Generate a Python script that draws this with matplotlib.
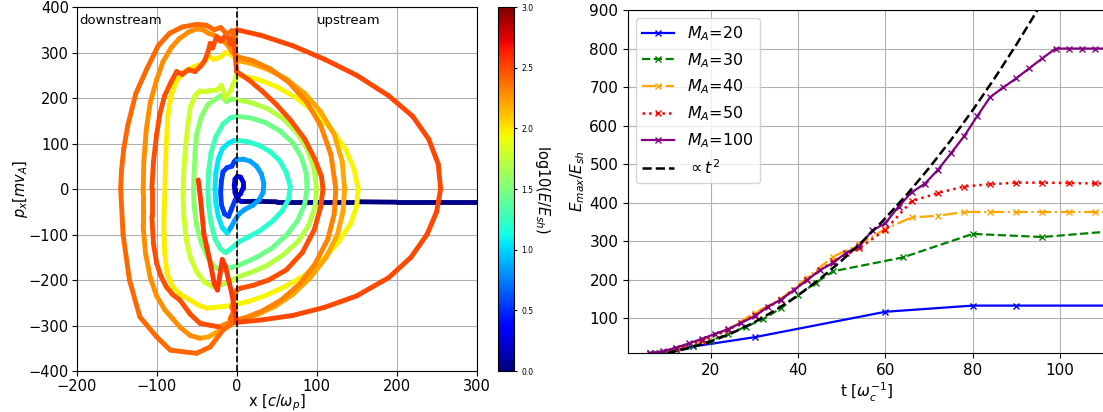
import numpy as np
import matplotlib
matplotlib.use("Agg")
import matplotlib.pyplot as plt
from matplotlib.collections import LineCollection
from matplotlib.colors import Normalize

# ---- left panel: particle track in (x, p_x), one colour value per piece ----
inj_x = [300, 250, 200, 150, 100, 50, 20, 5]
inj_p = [-29, -29, -29, -28, -28, -28, -27, -27]
l1_x = [5, 1, -2, -3, -2, 1, 5, 8, 8, 5, 1, -2]
l1_p = [-27, -22, -8, 8, 22, 28, 26, 16, 2, -10, -18, -25]
l2a_x = [-2, -6, -10, -15, -19, -20, -19, -17, -12, -6, -3, 0]
l2a_p = [-25, -42, -60, -55, -35, -8, 18, 38, 47, 50, 60, 66]
l2b_x = [0, 8, 17, 25, 31, 34, 33, 28, 20, 10, 3, -2, -7, -12]
l2b_p = [66, 66, 61, 50, 33, 12, -8, -24, -36, -45, -55, -68, -84, -97]
l3a_x = [-12, -18, -23, -26, -27, -26, -23, -18, -10, -3, 0]
l3a_p = [-97, -85, -60, -30, 0, 35, 65, 88, 101, 107, 107]
l3b_x = [0, 14, 28, 42, 54, 62, 67, 65, 57, 44, 29, 14, 4, -3, -9, -14]
l3b_p = [107, 104, 96, 82, 62, 36, 5, -22, -48, -72, -92, -106, -115, -125, -134, -140]
l4a_x = [-14, -20, -27, -32, -35, -36, -35, -32, -26, -17, -8, 0]
l4a_p = [-140, -132, -110, -75, -38, 0, 40, 80, 115, 143, 156, 160]
l4b_x = [0, 18, 36, 54, 70, 81, 87, 88, 85, 76, 62, 44, 25, 10, 2, -6, -14, -20]
l4b_p = [160, 156, 146, 128, 102, 70, 35, 0, -35, -70, -102, -130, -150, -162, -168, -172, -176, -180]
l5a_x = [-20, -28, -36, -44, -50, -53, -54, -53, -52, -50, -44, -36, -26, -19, -13, -6, 0]
l5a_p = [-180, -170, -150, -120, -80, -40, 0, 40, 80, 120, 160, 185, 198, 206, 192, 198, 196]
l5b_x = [0, 18, 38, 58, 76, 89, 97, 100, 98, 90, 77, 58, 38, 20, 7, 0, -8, -18, -29]
l5b_p = [196, 190, 177, 155, 122, 85, 42, 0, -40, -80, -115, -145, -168, -182, -190, -195, -203, -210, -215]
l6a_x = [-29, -40, -50, -58, -63, -66, -67, -66, -64, -61, -58, -52, -46, -36, -25, -19, -14, -8, -3, 0]
l6a_p = [-215, -205, -182, -150, -110, -60, -10, 40, 90, 140, 180, 205, 216, 216, 217, 228, 200, 215, 235, 250]
l6b_x = [0, 25, 50, 75, 100, 120, 137, 147, 152, 150, 143, 128, 108, 85, 60, 35, 15, 3, -5, -15, -27, -37]
l6b_p = [250, 242, 225, 200, 165, 128, 85, 42, 0, -38, -75, -115, -155, -190, -215, -235, -247, -252, -255, -258, -260, -262]
l7a_x = [-37, -48, -58, -70, -80, -87, -90, -91, -90, -89, -88, -86, -82, -75, -64, -52, -42, -35, -28, -20, -14, -8, -3, 0]
l7a_p = [-262, -255, -244, -232, -215, -185, -140, -80, -20, 40, 100, 160, 205, 238, 260, 270, 275, 292, 285, 290, 300, 296, 290, 283]
l7b_x = [0, 20, 40, 62, 85, 105, 122, 132, 135, 133, 126, 112, 92, 70, 48, 27, 10, 0, -10, -22, -35, -46]
l7b_p = [283, 275, 262, 242, 210, 170, 120, 60, 0, -50, -100, -150, -195, -232, -258, -275, -286, -292, -300, -312, -325, -328]
l8a_x = [-46, -58, -70, -80, -90, -100, -108, -114, -117, -117, -116, -113, -108, -100, -92, -82, -72, -60, -50, -42, -35, -28, -20, -12, -5, 0]
l8a_p = [-328, -322, -305, -285, -265, -235, -195, -140, -80, -10, 60, 130, 190, 240, 280, 310, 330, 345, 352, 350, 342, 338, 330, 318, 300, 291]
l8b_x = [0, 20, 42, 65, 88, 105, 118, 124, 122, 114, 98, 78, 55, 32, 12, 0, -8, -15, -22]
l8b_p = [291, 282, 264, 235, 190, 140, 75, 0, -55, -110, -165, -210, -245, -268, -282, -288, -292, -298, -303]
l9a_x = [-22, -32, -46, -58, -71, -80, -88, -95, -100, -104, -106, -106, -104, -100, -96, -90, -82, -75,
         -68, -60, -52, -45, -40, -36, -33, -30, -25, -20, -17, -12, -8, -4, 0]
l9a_p = [-303, -300, -295, -275, -244, -232, -215, -190, -163, -120, -60, 0, 60, 120, 165, 205, 235, 258,
         252, 262, 258, 270, 282, 300, 320, 310, 335, 325, 330, 342, 318, 337, 258]
l9b_x = [0, 15, 32, 50, 68, 85, 98, 106, 108, 105, 97, 82, 62, 40, 20, 5, 0]
l9b_p = [258, 240, 215, 185, 150, 110, 65, 28, 0, -40, -90, -140, -178, -200, -212, -218, -222]
l10a_x = [0, -3, -6, -4, -8, -5, -17, -33, -50, -66, -83, -100, -121, -134, -142, -145, -144, -141,
          -136, -126, -112, -98, -84, -68, -50, -38, -28, -20, -12, -6, -2, 0]
l10a_p = [-222, -240, -260, -270, -285, -295, -310, -347, -361, -358, -354, -325, -281, -200, -100, 0, 40, 90,
          140, 210, 265, 315, 342, 356, 362, 360, 350, 355, 340, 348, 335, 350]
l10b_x = [0, 30, 70, 110, 150, 190, 220, 240, 252, 255, 250, 238, 218, 190, 150, 110, 70, 30, 0]
l10b_p = [350, 338, 315, 285, 250, 205, 160, 110, 55, 0, -50, -100, -150, -195, -235, -260, -278, -288, -293]
end_x = [0, -3, -6, -10, -14, -18, -21, -24, -28, -32, -37, -41, -45, -48]
end_p = [-293, -260, -230, -200, -170, -155, -190, -222, -208, -171, -130, -98, -24, 20]

track = [
    (inj_x, inj_p, 0.02), (l1_x, l1_p, 0.25),
    (l2a_x, l2a_p, 0.55), (l2b_x, l2b_p, 0.85),
    (l3a_x, l3a_p, 1.05), (l3b_x, l3b_p, 1.2),
    (l4a_x, l4a_p, 1.3), (l4b_x, l4b_p, 1.45),
    (l5a_x, l5a_p, 1.55), (l5b_x, l5b_p, 1.7),
    (l6a_x, l6a_p, 1.8), (l6b_x, l6b_p, 1.95),
    (l7a_x, l7a_p, 1.97), (l7b_x, l7b_p, 2.2),
    (l8a_x, l8a_p, 2.28), (l8b_x, l8b_p, 2.32),
    (l9a_x, l9a_p, 2.48), (l9b_x, l9b_p, 2.48),
    (l10a_x, l10a_p, 2.4), (l10b_x, l10b_p, 2.5),
    (end_x, end_p, 2.55),
]

# ---- right panel: E_max / E_sh vs t ----
t_20 = [6, 16, 30, 60, 80, 90, 120]
e_20 = [10, 27, 51, 117, 133, 133, 133]
t_30 = [8, 12, 16, 20, 24, 28, 32, 36, 40, 44, 48, 64, 80, 96, 112]
e_30 = [10, 17, 28, 42, 60, 78, 98, 126, 160, 192, 222, 258, 319, 311, 326]
t_40 = [6, 12, 18, 24, 30, 36, 42, 48, 54, 60, 66, 72, 78, 84, 90, 96, 102, 108, 114]
e_40 = [8, 22, 44, 72, 114, 150, 205, 260, 292, 332, 362, 366, 376, 376, 376, 376, 376, 376, 376]
t_50 = [6, 12, 18, 24, 30, 36, 42, 48, 54, 60, 66, 72, 78, 84, 90, 96, 102, 108, 114]
e_50 = [8, 20, 42, 70, 108, 148, 200, 248, 282, 330, 404, 425, 442, 448, 452, 452, 451, 450, 450]
t_100 = [6, 9, 12, 15, 18, 21, 24, 27, 30, 33, 36, 39, 42, 45, 48, 51, 54, 57, 60, 63, 66, 69,
         72, 75, 78, 81, 84, 87, 90, 93, 96, 99, 102, 105, 108, 111]
e_100 = [9, 14, 24, 35, 47, 60, 72, 89, 105, 130, 148, 173, 199, 225, 244, 270, 288, 328, 347, 390, 427, 449,
         485, 528, 572, 624, 674, 699, 723, 749, 775, 800, 800, 800, 800, 800]
t_ref = [10, 15, 20, 25, 30, 35, 40, 45, 50, 55, 60, 65, 70, 75, 80, 85, 90, 95, 100]
e_ref = [10, 22.5, 40, 62.5, 90, 122.5, 160, 202.5, 250, 302.5, 360, 422.5, 490, 562.5, 640, 722.5, 810, 902.5, 1000]

fig = plt.figure(figsize=(11.03, 4.12), dpi=100)
ax1 = fig.add_axes([0.0695, 0.0995, 0.3626, 0.8835])
cax = fig.add_axes([0.4515, 0.0995, 0.0145, 0.8835])
ax2 = fig.add_axes([0.5694, 0.1432, 0.4331, 0.8325])

segs, vals = [], []
for xs, ps, c in track:
    pts = np.column_stack([xs, ps])
    segs.append(np.stack([pts[:-1], pts[1:]], axis=1))
    vals.append(np.full(len(xs) - 1, c))
lc = LineCollection(np.concatenate(segs), cmap='jet', norm=Normalize(0, 3),
                    linewidths=3.5, capstyle='round', joinstyle='round')
lc.set_array(np.concatenate(vals))
ax1.add_collection(lc)
ax1.axvline(0, color='k', ls='--', lw=1.2)
ax1.set_xlim(-200, 300)
ax1.set_ylim(-400, 400)
ax1.grid(True)
ax1.tick_params(labelsize=10.5, pad=2)
ax1.set_xlabel(r'x [$c/\omega_p$]', fontsize=10.5, labelpad=-1)
ax1.set_ylabel(r'$p_x[mv_A]$', fontsize=10.5, labelpad=-1)
ax1.text(-197, 370, 'downstream', fontsize=9.5, va='center')
ax1.text(100, 370, 'upstream', fontsize=9.5, va='center')

cb = fig.colorbar(lc, cax=cax, ticks=np.arange(0, 3.01, 0.5))
cb.ax.tick_params(labelsize=5.5, length=2)
cb.set_label(r'log10($E/E_{sh}$)', rotation=270, fontsize=10.5, labelpad=13)

ax2.plot(t_20, e_20, color='blue', ls='-', marker='x', ms=4, lw=1.6, label=r'$M_A$=20')
ax2.plot(t_30, e_30, color='green', ls='--', marker='x', ms=4, lw=1.6, label=r'$M_A$=30')
ax2.plot(t_40, e_40, color='orange', ls='-.', marker='x', ms=4, lw=1.6, label=r'$M_A$=40')
ax2.plot(t_50, e_50, color='red', ls=':', marker='x', ms=4, lw=1.8, label=r'$M_A$=50')
ax2.plot(t_100, e_100, color='purple', ls='-', marker='x', ms=4, lw=1.6, label=r'$M_A$=100')
ax2.plot(t_ref, e_ref, color='black', ls='--', lw=1.8, label=r'$\propto t^2$')
ax2.set_xlim(1, 110.5)
ax2.set_ylim(10, 900)
ax2.set_xticks([20, 40, 60, 80, 100])
ax2.set_yticks(np.arange(100, 901, 100))
ax2.grid(True)
ax2.tick_params(labelsize=11)
ax2.set_xlabel(r't [$\omega_c^{-1}$]', fontsize=11, labelpad=2)
ax2.set_ylabel(r'$E_{max}/E_{sh}$', fontsize=11, labelpad=2)
ax2.legend(loc='upper left', fontsize=11.5)

fig.savefig('out.png', dpi=100)
